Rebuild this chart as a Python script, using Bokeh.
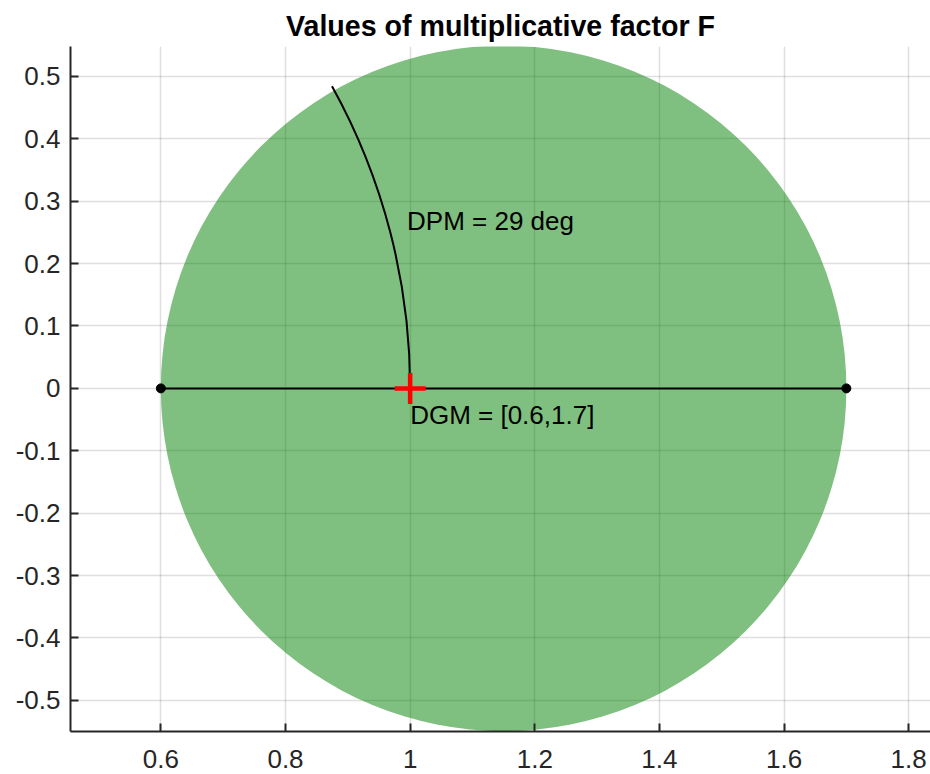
from bokeh.plotting import figure
from bokeh.models import Range1d, FixedTicker
from bokeh.core.properties import value
from bokeh.embed import file_html
from bokeh.resources import INLINE
import math

# ---- data ----
DGM = [0.6, 1.7]          # range of the gain factor
DPM_deg = 29              # phase margin (deg)
center_point = [1.0, 0.0]
x_ticks = [0.6, 0.8, 1.0, 1.2, 1.4, 1.6, 1.8]
x_tick_labels = ["0.6", "0.8", "1", "1.2", "1.4", "1.6", "1.8"]
y_ticks = [-0.5, -0.4, -0.3, -0.2, -0.1, 0.0, 0.1, 0.2, 0.3, 0.4, 0.5]
y_tick_labels = ["-0.5", "-0.4", "-0.3", "-0.2", "-0.1", "0", "0.1", "0.2", "0.3", "0.4", "0.5"]
title_text = "Values of multiplicative factor F"
dpm_label = "DPM = %d deg" % DPM_deg
dgm_label = "DGM = [%g,%g]" % (DGM[0], DGM[1])
dpm_label_pos = (0.995, 0.268)
dgm_label_pos = (1.0, -0.0425)

disk_center = (DGM[0] + DGM[1]) / 2.0
disk_radius = (DGM[1] - DGM[0]) / 2.0

FONT = "Liberation Sans"
AX = "#262626"

p = figure(width=930, height=774, output_backend="svg", toolbar_location=None,
           x_range=Range1d(0.455, 1.835), y_range=Range1d(-0.55, 0.548),
           min_border_left=70, min_border_right=0, min_border_top=46, min_border_bottom=43,
           title=title_text)
p.outline_line_color = None
p.background_fill_color = "white"
p.border_fill_color = "white"

p.title.align = "center"
p.title.text_font = FONT
p.title.text_font_size = "28.6px"
p.title.text_font_style = "bold"
p.title.text_color = "black"
p.title.offset = 3

for ax, ticks, labels in ((p.xaxis[0], x_ticks, x_tick_labels), (p.yaxis[0], y_ticks, y_tick_labels)):
    ax.ticker = FixedTicker(ticks=ticks)
    ax.major_label_overrides = {t: l for t, l in zip(ticks, labels)}
    ax.axis_line_color = AX
    ax.axis_line_width = 2
    ax.major_tick_line_color = AX
    ax.major_tick_line_width = 2
    ax.major_tick_in = 8
    ax.major_tick_out = 0
    ax.minor_tick_line_color = None
    ax.major_label_text_font = FONT
    ax.major_label_text_font_size = "26px"
    ax.major_label_text_color = AX
p.yaxis[0].major_label_standoff = 10
p.xaxis[0].major_label_standoff = 18

for g in (p.xgrid[0], p.ygrid[0]):
    g.grid_line_color = AX
    g.grid_line_alpha = 0.15
    g.grid_line_width = 1.5
p.xgrid[0].ticker = FixedTicker(ticks=x_ticks)
p.ygrid[0].ticker = FixedTicker(ticks=y_ticks)

# disk of allowed multiplicative factors
p.circle(x=[disk_center], y=[0], radius=disk_radius, fill_color=(0, 128, 0), fill_alpha=0.5,
         line_color=None)

# gain margin segment
p.line(x=DGM, y=[0, 0], line_color="black", line_width=2)
p.scatter(x=DGM, y=[0, 0], size=9, fill_color="black", line_color="black")

# phase margin arc on unit circle
p.arc(x=[0], y=[0], radius=1.0, start_angle=0, end_angle=math.radians(DPM_deg),
      line_color="black", line_width=2)

# nominal point
p.scatter(x=[center_point[0]], y=[center_point[1]], marker="cross", size=31,
          line_color="red", line_width=4.5)

p.text(x=[dpm_label_pos[0]], y=[dpm_label_pos[1]], text=[dpm_label], text_font=value(FONT),
       text_font_size="26px", text_color="black", text_baseline="middle", text_align="left")
p.text(x=[dgm_label_pos[0]], y=[dgm_label_pos[1]], text=[dgm_label], text_font=value(FONT),
       text_font_size="26px", text_color="black", text_baseline="middle", text_align="left")

open("out.html", "w").write(file_html(p, INLINE))
